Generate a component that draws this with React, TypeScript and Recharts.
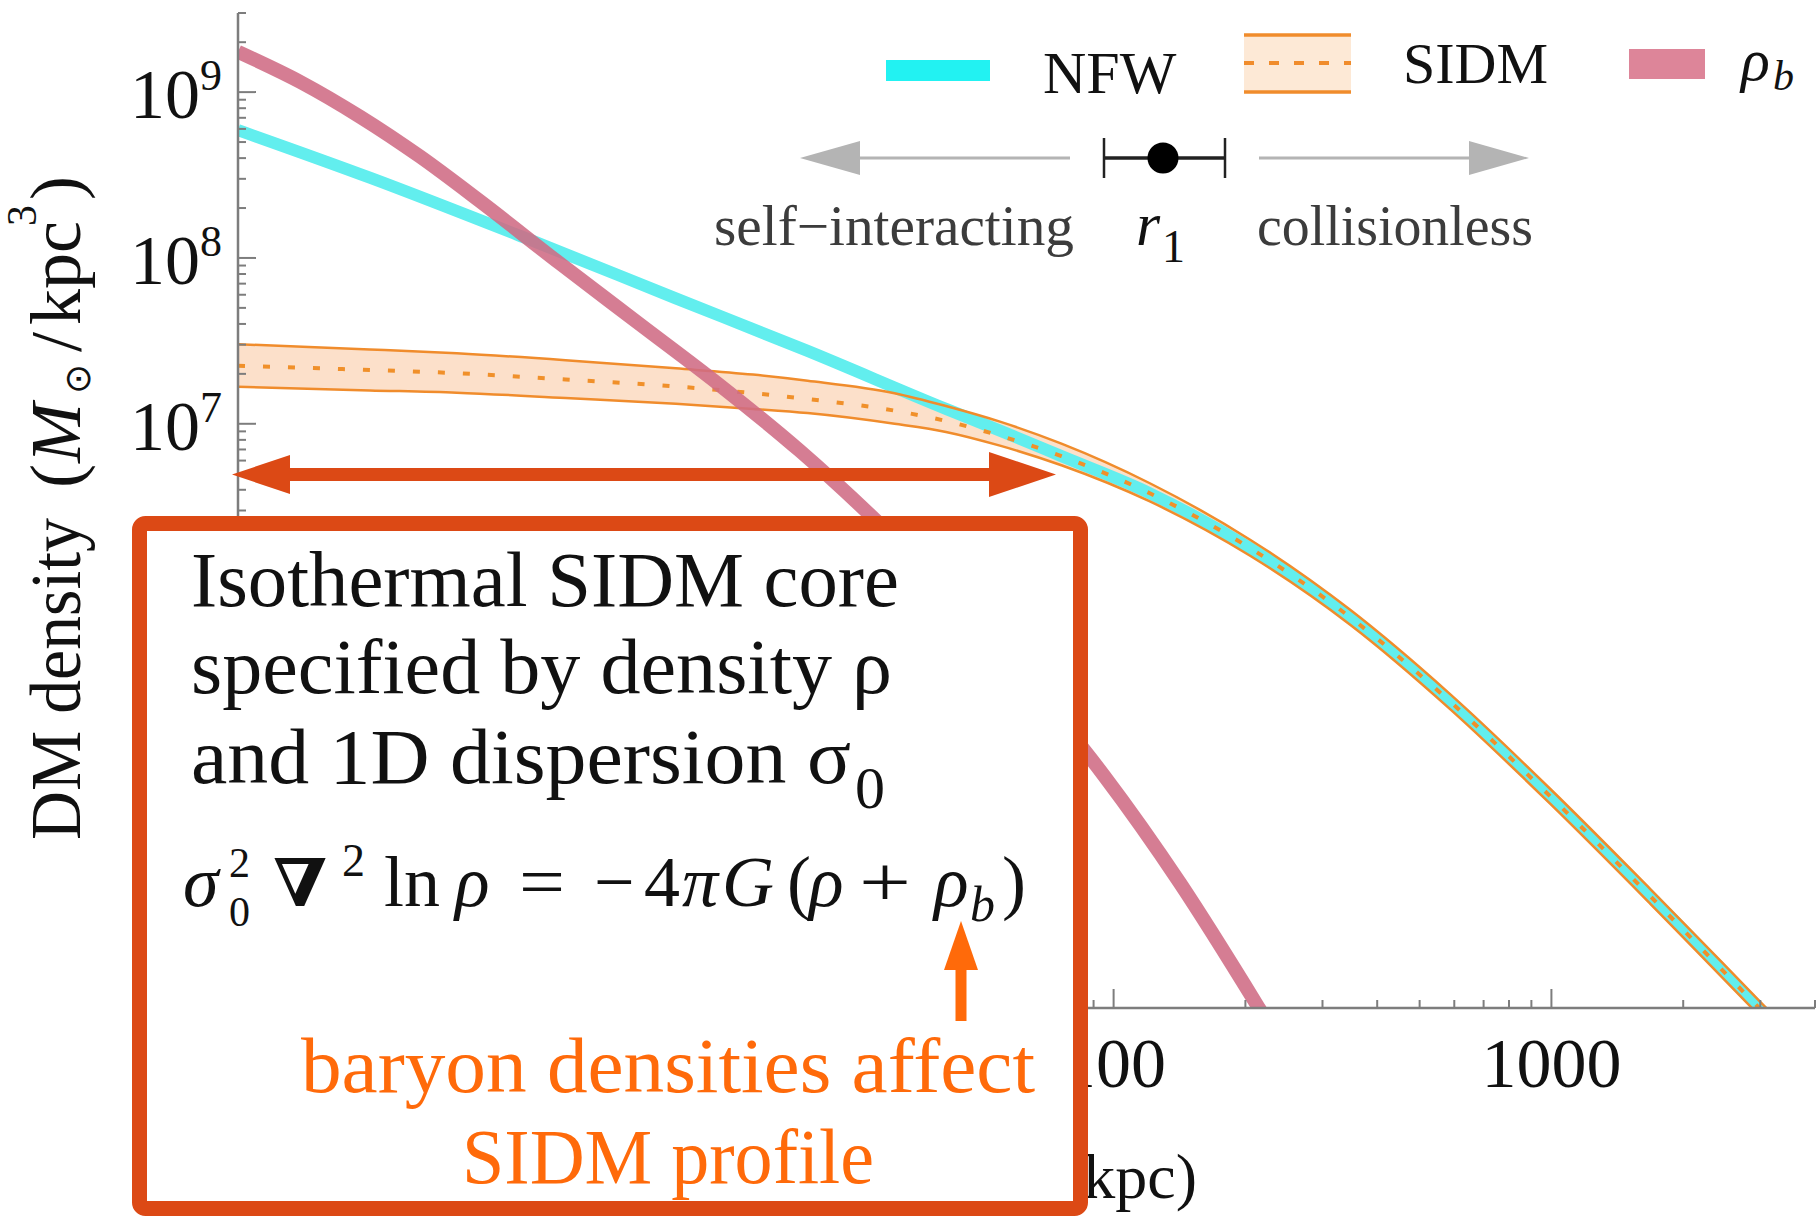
import React from "react";
import { ComposedChart, XAxis, YAxis, Line, Area } from "recharts";

const W = 1816;
const H = 1218;

// radius in kpc, density in M_sun / kpc^3
const NFW_R = [1, 2, 4.5, 10, 20, 41.4, 55, 76, 121, 205, 347, 586, 993, 1680, 3030, 4330];
const NFW_RHO = [5.9e8, 3.05e8, 1.33e8, 5.71e7, 2.75e7, 1.23e7, 9.1e6, 6.38e6, 3.81e6, 1.78e6, 6.81e5, 2.12e5, 5.68e4, 1.42e4, 2870, 1090];

const SIDM_R = [1, 2, 3.16, 5.6, 10, 15, 20, 31.6, 41.4, 55, 76, 121, 205, 347, 586, 993, 1680, 3030, 4330];
const SIDM_MID = [2.24e7, 2.11e7, 2.02e7, 1.85e7, 1.68e7, 1.53e7, 1.41e7, 1.2e7, 1.04e7, 8.47e6, 6.38e6, 3.81e6, 1.78e6, 6.81e5, 2.12e5, 5.68e4, 1.42e4, 2870, 1090];
const SIDM_HI = [3.02e7, 2.81e7, 2.66e7, 2.42e7, 2.16e7, 1.98e7, 1.82e7, 1.53e7, 1.28e7, 1.03e7, 7.59e6, 4.38e6, 2.0e6, 7.55e5, 2.35e5, 6.3e4, 1.57e4, 3180, 1210];
const SIDM_LO = [1.67e7, 1.59e7, 1.54e7, 1.43e7, 1.32e7, 1.23e7, 1.16e7, 1.0e7, 8.93e6, 7.38e6, 5.62e6, 3.4e6, 1.6e6, 6.14e5, 1.91e5, 5.12e4, 1.28e4, 2590, 980];

const RHOB_R = [1, 1.39, 1.9, 2.6, 3.57, 5.44, 8.29, 12.6, 19.2, 29.3, 44.6, 67.9, 95.1, 142, 215, 267];
const RHOB_RHO = [1.75e9, 1.15e9, 7.11e8, 4.1e8, 2.2e8, 9.25e7, 3.97e7, 1.71e7, 6.87e6, 2.47e6, 8.13e5, 2.29e5, 7.55e4, 1.69e4, 2980, 1160];

const X_TICKS = [1, 2, 3, 4, 5, 6, 7, 8, 9, 10, 20, 30, 40, 50, 60, 70, 80, 90, 100, 200, 300, 400, 500, 600, 700, 800, 900, 1000, 2000, 3000, 4000];
const X_MAJOR = [1, 10, 100, 1000];
// only the labels left uncovered by the annotation box are drawn
const X_LABELS: Record<number, string> = { 100: "100", 1000: "1000" };

const Y_MANTISSA = [1, 2, 3, 4, 5, 6, 7, 8, 9];
const Y_DECADES = [3, 4, 5, 6, 7, 8, 9];
const Y_MIN = 3e3;
const Y_MAX = 3e9;
const Y_TICKS = Y_DECADES.flatMap((d) => Y_MANTISSA.map((m) => m * 10 ** d)).filter((v) => v >= Y_MIN && v <= Y_MAX);
const Y_MAJOR = [1e4, 1e5, 1e6, 1e7, 1e8, 1e9];
const Y_LABELS: Record<number, string> = { 1e7: "7", 1e8: "8", 1e9: "9" };

type Row = { r: number; nfw?: number; mid?: number; hi?: number; lo?: number; band?: [number, number]; rhob?: number };

const rowMap = new Map<number, Row>();
const rowAt = (r: number) => {
  let row = rowMap.get(r);
  if (!row) {
    row = { r };
    rowMap.set(r, row);
  }
  return row;
};
NFW_R.forEach((r, i) => { rowAt(r).nfw = NFW_RHO[i]; });
SIDM_R.forEach((r, i) => {
  const row = rowAt(r);
  row.mid = SIDM_MID[i];
  row.hi = SIDM_HI[i];
  row.lo = SIDM_LO[i];
  row.band = [SIDM_LO[i], SIDM_HI[i]];
});
RHOB_R.forEach((r, i) => { rowAt(r).rhob = RHOB_RHO[i]; });
const rows = [...rowMap.values()].sort((a, b) => a.r - b.r);

const SERIF = '"Liberation Serif", "Times New Roman", serif';
const AXIS = "#7d7d7d";
const CYAN = "#62eeee";
const PINK = "#cf6b84";
const ORANGE = "#f08c2c";
const RED = "#dc4915";
const TEXT_ORANGE = "#ff6a0a";

/* ── tick renderers: ticks point into the frame ── */
function BottomTick({ x, y, payload }: any) {
  const major = X_MAJOR.includes(payload.value);
  const label = X_LABELS[payload.value];
  return (
    <g>
      <line x1={x} y1={y} x2={x} y2={y - (major ? 19 : 8)} stroke={AXIS} strokeWidth={2} />
      {label && (
        <text x={x} y={y + 79} textAnchor="middle" fontFamily={SERIF} fontSize={70} fill="#111">
          {label}
        </text>
      )}
    </g>
  );
}

function TopTick({ x, y, payload }: any) {
  const major = X_MAJOR.includes(payload.value);
  return <line x1={x} y1={y} x2={x} y2={y + (major ? 19 : 8)} stroke={AXIS} strokeWidth={2} />;
}

function LeftTick({ x, y, payload }: any) {
  const major = Y_MAJOR.includes(payload.value);
  const exp = Y_LABELS[payload.value];
  return (
    <g>
      <line x1={x} y1={y} x2={x + (major ? 18 : 8)} y2={y} stroke={AXIS} strokeWidth={2} />
      {exp && (
        <text x={x - 16} y={y + 26} textAnchor="end" fontFamily={SERIF} fontSize={70} fill="#111">
          10
          <tspan dy={-28} fontSize={44}>
            {exp}
          </tspan>
        </text>
      )}
    </g>
  );
}

function RightTick({ x, y, payload }: any) {
  const major = Y_MAJOR.includes(payload.value);
  return <line x1={x} y1={y} x2={x - (major ? 18 : 8)} y2={y} stroke={AXIS} strokeWidth={2} />;
}

// equation pieces: text, x, baseline, size, style, forced width
const FORMULA: Array<[string, number, number, number, "i" | "n" | "b", number?]> = [
  ["σ", 183, 906, 72, "i"],
  ["2", 229, 877, 42, "n"],
  ["0", 229, 926, 42, "n"],
  ["∇", 273, 906, 66, "b", 54],
  ["2", 342, 876, 46, "n"],
  ["ln", 384, 906, 72, "n"],
  ["ρ", 455, 906, 72, "i"],
  ["=", 519, 906, 72, "n", 46],
  ["−", 594, 906, 72, "n"],
  ["4", 644, 906, 72, "n"],
  ["π", 682, 906, 72, "i"],
  ["G", 722, 906, 72, "i"],
  ["(", 787, 906, 72, "n"],
  ["ρ", 809, 906, 72, "i"],
  ["+", 859, 906, 72, "n", 52],
  ["ρ", 934, 906, 72, "i"],
  ["b", 970, 921, 50, "i"],
  [")", 1002, 906, 72, "n"],
];

function Overlay() {
  return (
    <svg width={W} height={H} style={{ position: "absolute", left: 0, top: 0, pointerEvents: "none" }}>
      {/* y axis title, read bottom to top */}
      <g transform="translate(80,840) rotate(-90)" fontFamily={SERIF} fontSize={72} fill="#111">
        <text x={0} y={0} textLength={322} lengthAdjust="spacingAndGlyphs">DM density</text>
        <text x={352} y={0}>(</text>
        <text x={377} y={0} fontStyle="italic">M</text>
        <text x={446} y={10} fontFamily='"DejaVu Sans", sans-serif' fontSize={36}>⊙</text>
        <text x={488} y={0}>/</text>
        <text x={515} y={0}>kpc</text>
        <text x={614} y={-44} fontSize={42}>3</text>
        <text x={640} y={0}>)</text>
      </g>

      {/* x axis title, mostly behind the box */}
      <text x={1197} y={1198} textAnchor="end" fontFamily={SERIF} fontSize={64} fill="#111">
        <tspan fontStyle="italic">r</tspan> (kpc)
      </text>

      {/* legend */}
      <rect x={886} y={60} width={104} height={21} fill="#22f2f2" />
      <text x={1043} y={93} fontFamily={SERIF} fontSize={60} fill="#111">NFW</text>
      <rect x={1244} y={35} width={107} height={57} fill="#fde9d6" />
      <line x1={1244} y1={35} x2={1351} y2={35} stroke={ORANGE} strokeWidth={3.5} />
      <line x1={1244} y1={92} x2={1351} y2={92} stroke={ORANGE} strokeWidth={3.5} />
      <line x1={1244} y1={63} x2={1351} y2={63} stroke={ORANGE} strokeWidth={4} strokeDasharray="10 15" />
      <text x={1403} y={83} fontFamily={SERIF} fontSize={58} fill="#111">SIDM</text>
      <rect x={1629} y={49} width={76} height={30} fill="#dd8599" />
      <text x={1741} y={80} fontFamily={SERIF} fontSize={60} fontStyle="italic" fill="#111">ρ</text>
      <text x={1773} y={90} fontFamily={SERIF} fontSize={42} fontStyle="italic" fill="#111">b</text>

      {/* r1 marker with regime arrows */}
      <line x1={858} y1={158} x2={1070} y2={158} stroke="#b4b4b4" strokeWidth={3} />
      <polygon points="800,158 860,141 860,175" fill="#b4b4b4" />
      <line x1={1259} y1={158} x2={1471} y2={158} stroke="#b4b4b4" strokeWidth={3} />
      <polygon points="1529,158 1469,141 1469,175" fill="#b4b4b4" />
      <line x1={1104} y1={158} x2={1225} y2={158} stroke="#222" strokeWidth={3.5} />
      <line x1={1104} y1={138} x2={1104} y2={178} stroke="#222" strokeWidth={2.5} />
      <line x1={1225} y1={138} x2={1225} y2={178} stroke="#222" strokeWidth={2.5} />
      <circle cx={1163} cy={158} r={15.5} fill="#000" />
      <text x={714} y={245} fontFamily={SERIF} fontSize={56} fill="#3c3c3c" textLength={360} lengthAdjust="spacingAndGlyphs">
        self−interacting
      </text>
      <text x={1136} y={245} fontFamily={SERIF} fontSize={62} fontStyle="italic" fill="#111">r</text>
      <text x={1162} y={262} fontFamily={SERIF} fontSize={46} fill="#111">1</text>
      <text x={1257} y={245} fontFamily={SERIF} fontSize={56} fill="#3c3c3c" textLength={276} lengthAdjust="spacingAndGlyphs">
        collisionless
      </text>

      {/* core extent */}
      <line x1={285} y1={474.5} x2={995} y2={474.5} stroke={RED} strokeWidth={13} />
      <polygon points="232,474.5 290,455 290,494" fill={RED} />
      <polygon points="1056,474.5 989,452 989,497" fill={RED} />

      {/* annotation box */}
      <rect x={139.5} y={523.5} width={941} height={685} rx={6} fill="#fff" stroke={RED} strokeWidth={15} />
      <g fontFamily={SERIF} fill="#111" fontSize={78}>
        <text x={191} y={606} textLength={708} lengthAdjust="spacingAndGlyphs">Isothermal SIDM core</text>
        <text x={191} y={693} textLength={701} lengthAdjust="spacingAndGlyphs">specified by density ρ</text>
        <text x={191} y={783} textLength={660} lengthAdjust="spacingAndGlyphs">and 1D dispersion σ</text>
        <text x={855} y={808} fontSize={60}>0</text>
      </g>
      <g fill="#111">
        {FORMULA.map(([t, x, y, s, st, len], i) => (
          <text
            key={i}
            x={x}
            y={y}
            fontSize={s}
            fontFamily={st === "b" ? '"DejaVu Serif", serif' : SERIF}
            fontStyle={st === "i" ? "italic" : "normal"}
            fontWeight={st === "b" ? "bold" : "normal"}
            textLength={len}
            lengthAdjust={len ? "spacingAndGlyphs" : undefined}
          >
            {t}
          </text>
        ))}
      </g>
      <line x1={961} y1={1021} x2={961} y2={965} stroke={TEXT_ORANGE} strokeWidth={11} />
      <polygon points="961,921 944,970 978,970" fill={TEXT_ORANGE} />
      <g fontFamily={SERIF} fill={TEXT_ORANGE} fontSize={78}>
        <text x={301} y={1092} textLength={734} lengthAdjust="spacingAndGlyphs">baryon densities affect</text>
        <text x={462} y={1183} textLength={412} lengthAdjust="spacingAndGlyphs">SIDM profile</text>
      </g>
    </svg>
  );
}

export default function App() {
  return (
    <div style={{ position: "absolute", left: 0, top: 0, width: W, height: H, background: "#fff" }}>
      <ComposedChart width={W} height={H} data={rows} margin={{ top: 13, right: 1, bottom: 0, left: 0 }}>
        <XAxis
          xAxisId="bottom"
          dataKey="r"
          type="number"
          scale="log"
          domain={[1, 4000]}
          allowDataOverflow
          ticks={X_TICKS}
          interval={0}
          tickSize={0}
          tickMargin={0}
          tickLine={false}
          tick={BottomTick}
          axisLine={{ stroke: AXIS, strokeWidth: 2.5 }}
          height={210}
        />
        <XAxis
          xAxisId="top"
          orientation="top"
          dataKey="r"
          type="number"
          scale="log"
          domain={[1, 4000]}
          allowDataOverflow
          ticks={X_TICKS}
          interval={0}
          tickSize={0}
          tickMargin={0}
          tickLine={false}
          tick={TopTick}
          axisLine={{ stroke: AXIS, strokeWidth: 2.5 }}
          height={0}
        />
        <YAxis
          yAxisId="left"
          type="number"
          scale="log"
          domain={[Y_MIN, Y_MAX]}
          allowDataOverflow
          ticks={Y_TICKS}
          interval={0}
          tickSize={0}
          tickMargin={0}
          tickLine={false}
          tick={LeftTick}
          axisLine={{ stroke: AXIS, strokeWidth: 2.5 }}
          width={238}
        />
        <YAxis
          yAxisId="right"
          orientation="right"
          type="number"
          scale="log"
          domain={[Y_MIN, Y_MAX]}
          allowDataOverflow
          ticks={Y_TICKS}
          interval={0}
          tickSize={0}
          tickMargin={0}
          tickLine={false}
          tick={RightTick}
          axisLine={{ stroke: AXIS, strokeWidth: 2.5 }}
          width={0}
        />
        <Line xAxisId="bottom" yAxisId="left" dataKey="nfw" type="monotone" stroke={CYAN} strokeWidth={12} dot={false} activeDot={false} connectNulls isAnimationActive={false} />
        <Area xAxisId="bottom" yAxisId="left" dataKey="band" type="monotone" stroke="none" fill="#f7b27a" fillOpacity={0.4} connectNulls isAnimationActive={false} activeDot={false} />
        <Line xAxisId="bottom" yAxisId="left" dataKey="hi" type="monotone" stroke={ORANGE} strokeWidth={2.5} dot={false} activeDot={false} connectNulls isAnimationActive={false} />
        <Line xAxisId="bottom" yAxisId="left" dataKey="lo" type="monotone" stroke={ORANGE} strokeWidth={2.5} dot={false} activeDot={false} connectNulls isAnimationActive={false} />
        <Line xAxisId="bottom" yAxisId="left" dataKey="mid" type="monotone" stroke="#f0902a" strokeWidth={4} strokeDasharray="7 18" dot={false} activeDot={false} connectNulls isAnimationActive={false} />
        <Line xAxisId="bottom" yAxisId="left" dataKey="rhob" type="monotone" stroke={PINK} strokeOpacity={0.88} strokeWidth={14} dot={false} activeDot={false} connectNulls isAnimationActive={false} />
      </ComposedChart>
      <Overlay />
    </div>
  );
}
